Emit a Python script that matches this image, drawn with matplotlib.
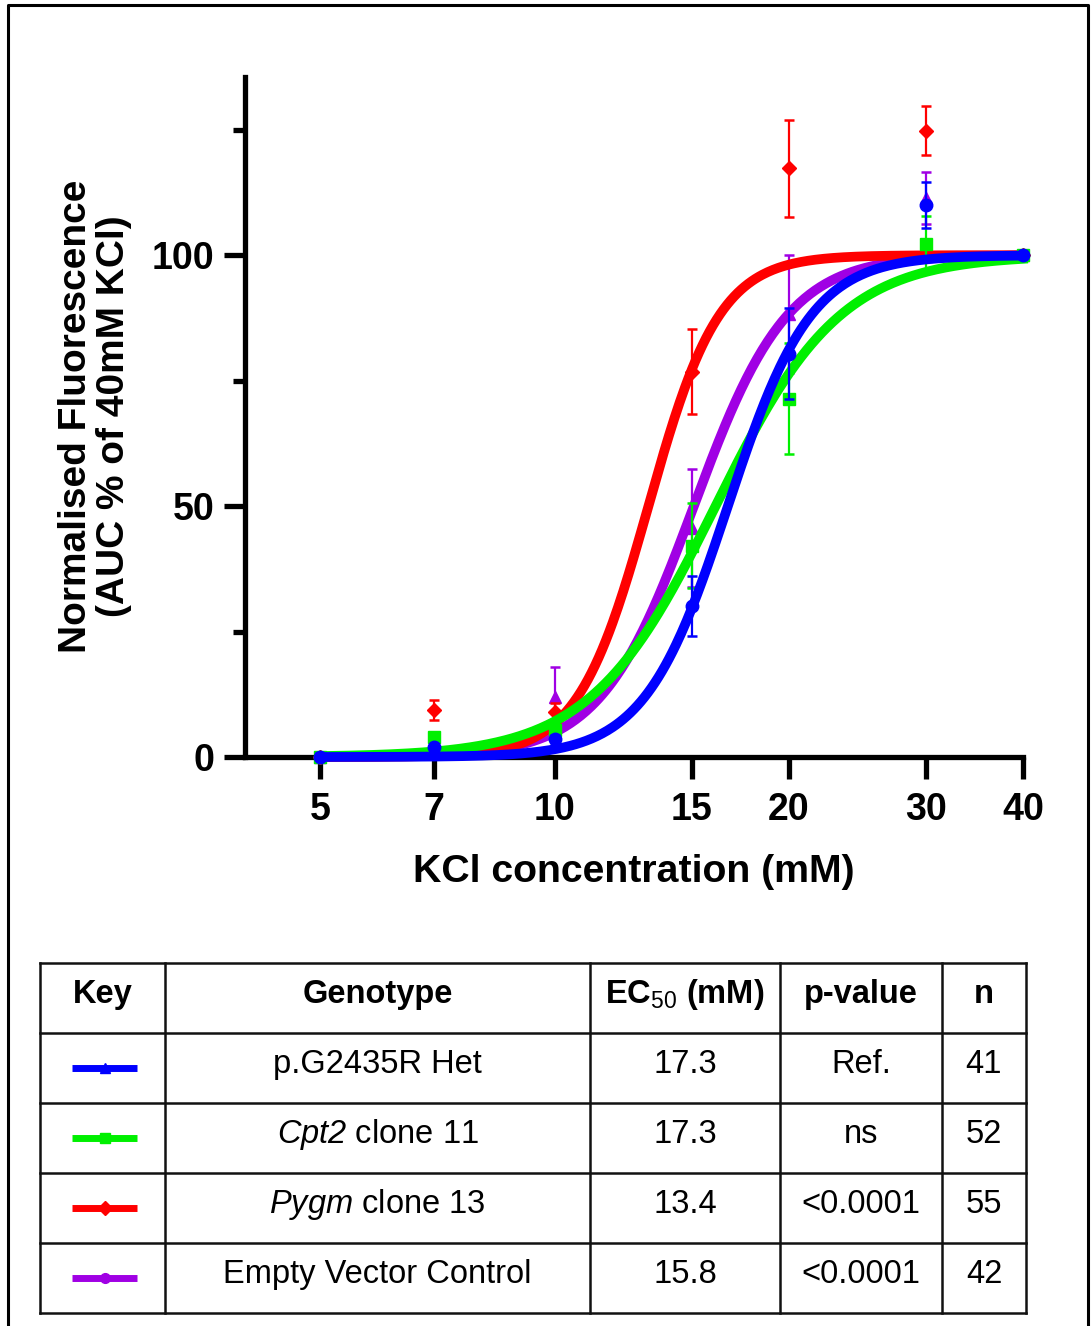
import numpy as np
import matplotlib.pyplot as plt
from matplotlib.ticker import NullLocator

plt.rcParams['font.family'] = ['Liberation Sans', 'DejaVu Sans']
plt.rcParams['mathtext.fontset'] = 'custom'
plt.rcParams['mathtext.rm'] = 'Liberation Sans'
plt.rcParams['mathtext.sf'] = 'Liberation Sans:italic'
plt.rcParams['mathtext.bf'] = 'Liberation Sans:bold'

# KCl concentrations (mM)
kcl = [5, 7, 10, 15, 20, 30, 40]

# mean normalised AUC (% of 40 mM KCl response) with SEM
het_mean = [0, 1.9, 3.5, 30.1, 80.4, 110.0, 100]
het_sem = [0, 0.5, 0.8, 6.0, 9.0, 4.5, 0]
cpt2_mean = [0, 3.9, 5.4, 42.1, 71.4, 102.3, 100]
cpt2_sem = [0, 0.8, 1.5, 8.5, 11.0, 5.6, 0]
pygm_mean = [0, 9.4, 9.0, 76.8, 117.3, 124.8, 100]
pygm_sem = [0, 2.0, 1.8, 8.5, 9.7, 4.9, 0]
evc_mean = [0, 1.5, 12.0, 45.6, 88.3, 111.4, 100]
evc_sem = [0, 0.8, 6.0, 11.8, 11.7, 5.2, 0]

# sigmoid fits: midpoint (mM) and Hill slope, order het, cpt2, pygm, evc
fit_mid = [16.7, 16.1, 13.2, 15.1]
fit_slope = [8.1, 5.4, 9.5, 7.2]

# table contents (sf is mapped to the italic face for gene names)
genotypes = ["p.G2435R Het", r"$\mathsf{Cpt2}$ clone 11",
             r"$\mathsf{Pygm}$ clone 13", "Empty Vector Control"]
ec50 = ["17.3", "17.3", "13.4", "15.8"]
p_values = ["Ref.", "ns", "<0.0001", "<0.0001"]
n_cells = ["41", "52", "55", "42"]

colors = ["#0000FF", "#00F000", "#FF0000", "#A000E4"]
markers = ["o", "s", "D", "^"]
msizes = [9, 8, 7, 9]
key_markers = ["^", "s", "D", "o"]
means = [het_mean, cpt2_mean, pygm_mean, evc_mean]
sems = [het_sem, cpt2_sem, pygm_sem, evc_sem]
zorders = [6, 5, 4, 3]

W, H = 1092, 1326
fig = plt.figure(figsize=(W / 100, H / 100), dpi=100)
ax = fig.add_axes([245 / W, 1 - 757 / H, (1023 - 245) / W, (757 - 77) / H])

xs = np.geomspace(5, 40, 400)
for i in [3, 2, 1, 0]:
    curve = 100 / (1 + (fit_mid[i] / xs) ** fit_slope[i])
    ax.plot(xs, curve, color=colors[i], lw=7, zorder=zorders[i], clip_on=False)
    ax.errorbar(kcl, means[i], yerr=sems[i], fmt=markers[i], color=colors[i],
                ms=msizes[i], capsize=3.6, elinewidth=1.6, capthick=1.8,
                zorder=zorders[i] + 0.5, clip_on=False)

ax.set_xscale('log')
ax.set_xlim(4, 40)
ax.set_ylim(0, 135.5)
ax.set_xticks(kcl)
ax.set_xticklabels([str(k) for k in kcl], fontsize=27, fontweight='bold')
ax.xaxis.set_minor_locator(NullLocator())
ax.set_yticks([0, 50, 100])
ax.set_yticklabels(["0", "50", "100"], fontsize=27, fontweight='bold')
ax.set_yticks([25, 75, 125], minor=True)

for side in ['top', 'right']:
    ax.spines[side].set_visible(False)
for side in ['left', 'bottom']:
    ax.spines[side].set_linewidth(3.8)
ax.tick_params(axis='x', which='major', length=16, width=3.8, pad=9)
ax.tick_params(axis='y', which='major', length=15, width=3.8, pad=7)
ax.tick_params(axis='y', which='minor', length=8.6, width=3.8)

# overlay in pixel units for labels, frame and key table
ov = fig.add_axes([0, 0, 1, 1])
ov.set_xlim(0, W)
ov.set_ylim(H, 0)
ov.axis('off')

ov.text(634, 882, "KCl concentration (mM)", fontsize=28.3, fontweight='bold',
        ha='center', va='baseline')
ov.text(95, 416, "Normalised Fluorescence\n(AUC % of 40mM KCl)", fontsize=28,
        fontweight='bold', rotation=90, ha='center', va='center',
        multialignment='center', linespacing=1.05)

ov.plot([8, 8, 1088, 1088], [H + 5, 5, 5, H + 5], color='black', lw=2.2,
        clip_on=False)

col_edges = [40, 165, 590, 780, 942, 1026]
row_edges = [963, 1033, 1103, 1173, 1243, 1313]
for y in row_edges:
    ov.plot([col_edges[0], col_edges[-1]], [y, y], color='#111111', lw=1.8,
            solid_capstyle='projecting')
for x in col_edges:
    ov.plot([x, x], [row_edges[0], row_edges[-1]], color='#111111', lw=1.8,
            solid_capstyle='projecting')

centers = [(a + b) / 2 for a, b in zip(col_edges[:-1], col_edges[1:])]
headers = ["Key", "Genotype", r"EC$_{\mathrm{50}}$ (mM)", "p-value", "n"]
for cx, label in zip(centers, headers):
    ov.text(cx, row_edges[0] + 40, label, fontsize=23.5, fontweight='bold',
            ha='center', va='baseline')

for i in range(4):
    top = row_edges[i + 1]
    yc = top + 35
    ov.plot([72, 137], [yc, yc], color=colors[i], lw=5, solid_capstyle='butt')
    ov.plot([104.5], [yc], marker=key_markers[i], color=colors[i], ms=7)
    row = [genotypes[i], ec50[i], p_values[i], n_cells[i]]
    for cx, label in zip(centers[1:], row):
        ov.text(cx, top + 40, label, fontsize=23.5, ha='center', va='baseline')

fig.savefig("out.png", dpi=100)
